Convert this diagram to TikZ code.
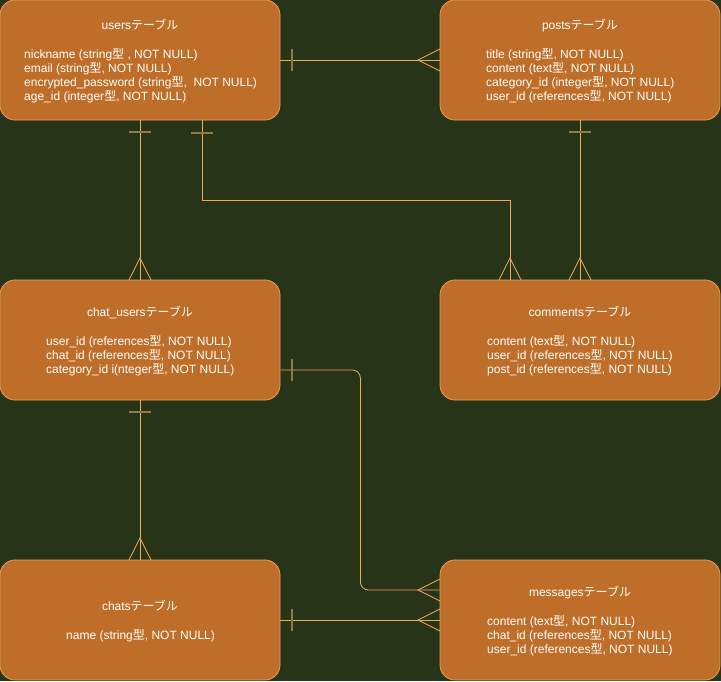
\documentclass[tikz,border=0pt]{standalone}
\usepackage{fontspec}
\setmainfont{Liberation Sans}
\newfontfamily\cjk{Noto Sans CJK JP}
\newcommand{\gata}{{\cjk 型}}
\newcommand{\tbl}{{\cjk テーブル}}
\definecolor{bgc}{HTML}{283418}
\definecolor{boxc}{HTML}{BE6E28}
\definecolor{edgec}{HTML}{E2A266}
\definecolor{linec}{HTML}{F0AA5C}
\definecolor{tickc}{HTML}{8E7A42}

\begin{document}
\begin{tikzpicture}[x=1pt, y=-1pt,
  table/.style={draw=edgec, fill=boxc, rounded corners=15pt, line width=.8pt,
    minimum width=280pt, minimum height=120pt, inner sep=0pt},
  title/.style={anchor=base, text=white, inner sep=0pt},
  body/.style={anchor=north west, align=left, text=white, inner sep=0pt},
  line/.style={linec, line width=.8pt},
  tick/.style={tickc, line width=1.2pt}]
\useasboundingbox (0,0) rectangle (721,681);
\fill[bgc] (0,0) rectangle (721,681);
\begin{scope}[font=\fontsize{12}{14}\selectfont]
% the six tables
\node[table] (users) at (140,60) {};
\node[table] (posts) at (580,60) {};
\node[table] (chatusers) at (140,340) {};
\node[table] (comments) at (580,340) {};
\node[table] (chats) at (140,620) {};
\node[table] (messages) at (580,620) {};
\node[title] (userst) at (140,29.5) {users\tbl};
\node[body] (usersb) at (24,48.5) {nickname (string\gata\ , NOT NULL)\\
email (string\gata, NOT NULL)\\
encrypted\_password (string\gata,\ \ NOT NULL)\\
age\_id (integer\gata, NOT NULL)};
\node[title] (postst) at (580,29.5) {posts\tbl};
\node[body] (postsb) at (486,48.5) {title (string\gata, NOT NULL)\\
content (text\gata, NOT NULL)\\
category\_id (integer\gata, NOT NULL)\\
user\_id (references\gata, NOT NULL)};
\node[title] (chatuserst) at (140,316.5) {chat\_users\tbl};
\node[body] (chatusersb) at (46,335.5) {user\_id (references\gata, NOT NULL)\\
chat\_id (references\gata, NOT NULL)\\
category\_id i(nteger\gata, NOT NULL)};
\node[title] (commentst) at (580,316.5) {comments\tbl};
\node[body] (commentsb) at (487,335.5) {content (text\gata, NOT NULL)\\
user\_id (references\gata, NOT NULL)\\
post\_id (references\gata, NOT NULL)};
\node[title] (chatst) at (140,610.5) {chats\tbl};
\node[body] (chatsb) at (66,629.5) {name (string\gata, NOT NULL)};
\node[title] (messagest) at (580,596.5) {messages\tbl};
\node[body] (messagesb) at (487,615.5) {content (text\gata, NOT NULL)\\
chat\_id (references\gata, NOT NULL)\\
user\_id (references\gata, NOT NULL)};
\end{scope}
% relations
\draw[line] (users.east) -- (posts.west);
\draw[line] (users.south) -- (chatusers.north);
\draw[line] ([xshift=62pt]users.south) -- ++(0,80) -| ([xshift=-70pt]comments.north);
\draw[line] (posts.south) -- (comments.north);
\draw[line] (chatusers.south) -- (chats.north);
\draw[line, rounded corners=8pt] ([yshift=-30pt]chatusers.east) -- ++(80,0) |- ([yshift=30pt]messages.west);
\draw[line] (chats.east) -- (messages.west);
% one side
\foreach \x/\y in {292/60, 292/370, 292/620}
  \draw[tick] (\x,\y-11) -- (\x,\y+11);
\foreach \x/\y in {140/132, 202/133, 580/132, 140/412}
  \draw[tick] (\x-11,\y) -- (\x+11,\y);
% many side
\foreach \y in {60, 590, 620}
  \draw[line] (440,\y-11) -- (418,\y) -- (440,\y+11);
\foreach \x/\y in {140/280, 510/280, 580/280, 140/560}
  \draw[line] (\x-11,\y) -- (\x,\y-22) -- (\x+11,\y);
\end{tikzpicture}
\end{document}
